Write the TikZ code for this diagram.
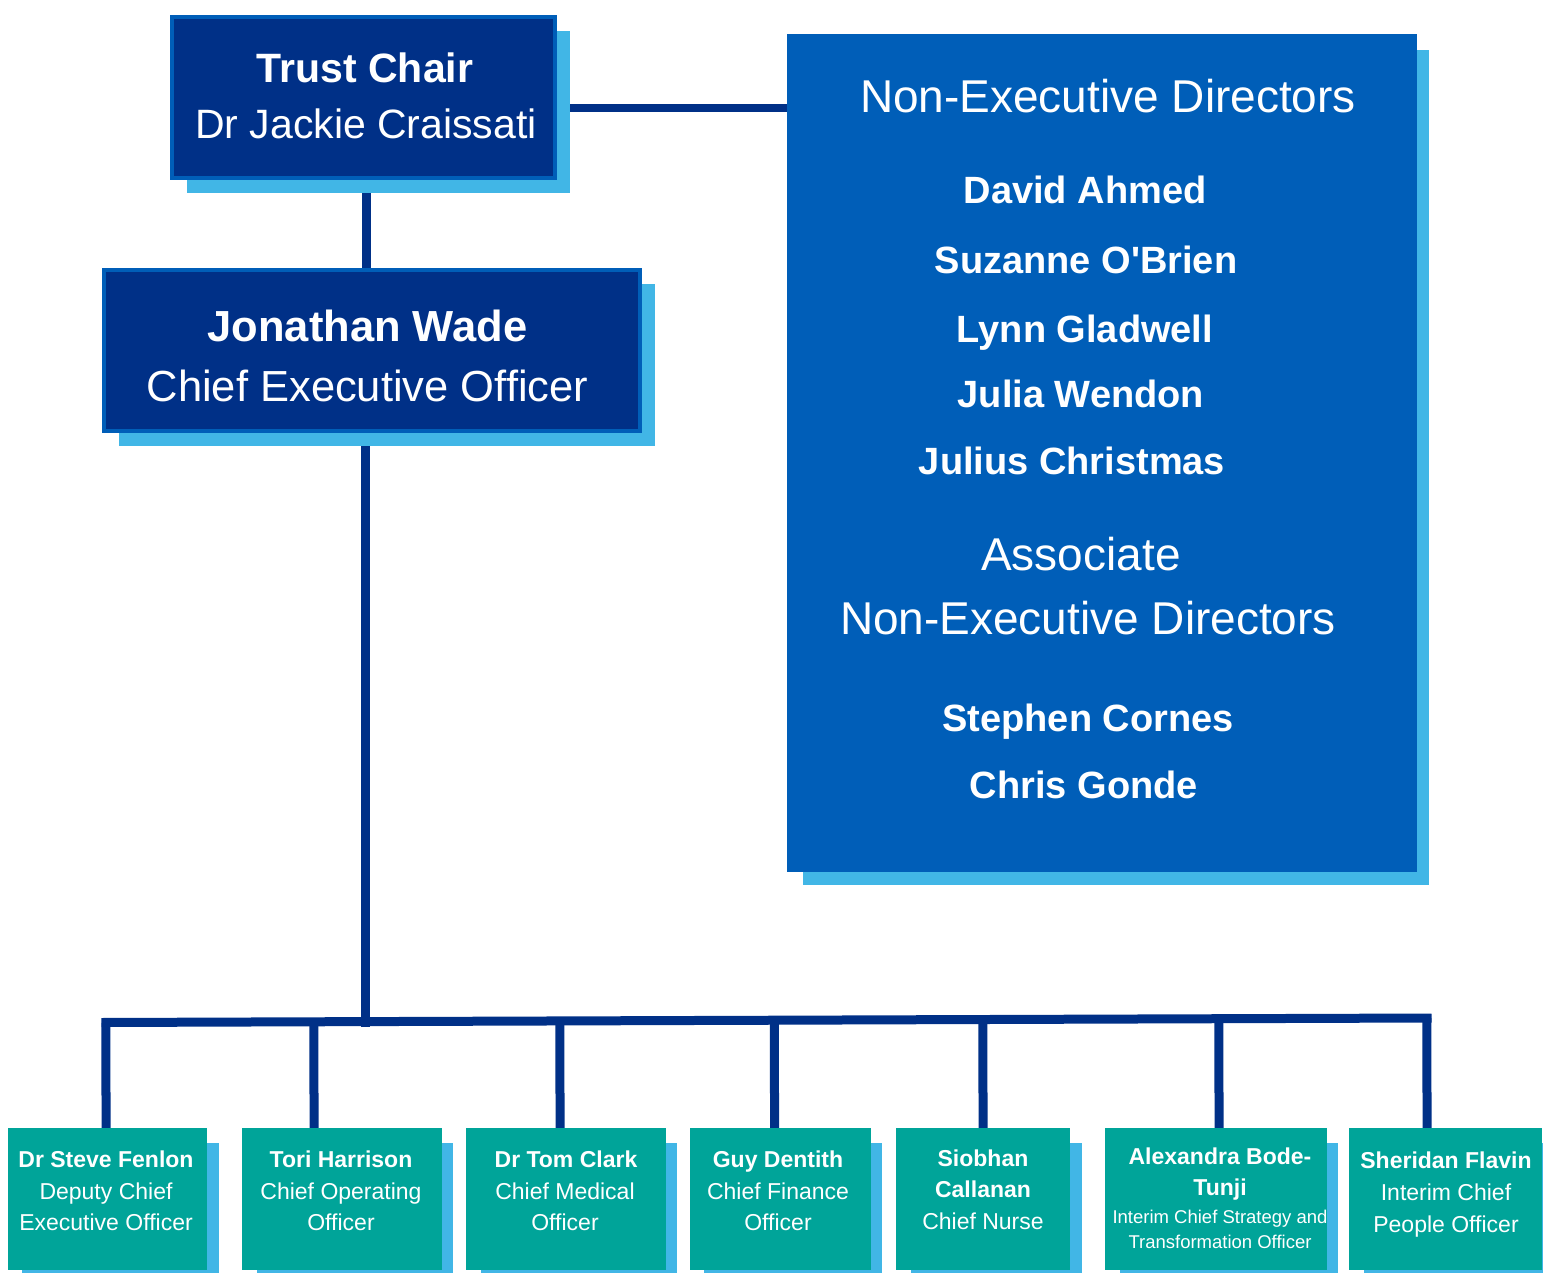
\documentclass[tikz,border=0pt]{standalone}
\usepackage{fontspec}
\setmainfont{Liberation Sans}
\newfontfamily\plainfam{Liberation Sans}[Ligatures=TeXOff]
\usetikzlibrary{calc}
\definecolor{navy}{HTML}{003087}
\definecolor{nhsblue}{HTML}{005EB8}
\definecolor{lblue}{HTML}{41B6E6}
\definecolor{aqua}{HTML}{00A499}
\pgfdeclarelayer{lines}
\pgfdeclarelayer{shadows}
\pgfsetlayers{lines,shadows,main}
\begin{document}
\begin{tikzpicture}[x=1pt,y=-1pt,
  box/.style={rectangle, inner sep=0pt, outer sep=0pt},
  topbox/.style={box, draw=nhsblue, line width=4pt, fill=navy},
  exbox/.style={box, fill=aqua, minimum height=142pt},
  conn/.style={draw=navy, line width=9pt},
  shade/.style={fill=lblue},
  txt/.style={text=white, inner sep=0pt, anchor=base},
  fs/.style={txt, font=\fontsize{#1}{#1}\selectfont},
  bfs/.style={txt, font=\bfseries\fontsize{#1}{#1}\selectfont}]
\useasboundingbox (0,0) rectangle (1543,1273);

% boxes
\node[topbox, minimum width=383pt, minimum height=161pt] (chair) at (363.5,97.5) {};
\node[topbox, minimum width=536pt, minimum height=161pt] (ceo) at (371.5,350.5) {};
\node[box, fill=nhsblue, minimum width=630pt, minimum height=838pt] (ned) at (1102,453) {};
\node[exbox, minimum width=199pt] (b1) at (107.5,1199) {};
\node[exbox, minimum width=200pt] (b2) at (342,1199) {};
\node[exbox, minimum width=200pt] (b3) at (566,1199) {};
\node[exbox, minimum width=181pt] (b4) at (780.5,1199) {};
\node[exbox, minimum width=174pt] (b5) at (983,1199) {};
\node[exbox, minimum width=222pt] (b6) at (1216,1199) {};
\node[exbox, minimum width=193pt] (b7) at (1445.5,1199) {};

% shadows
\begin{pgfonlayer}{shadows}
\fill[shade] (187,31) rectangle (570,193);
\fill[shade] (119,284) rectangle (655,446);
\fill[shade] (803,50) rectangle (1429,885);
\fill[shade] (22,1143) rectangle (219,1280);
\fill[shade] (257,1143) rectangle (453,1280);
\fill[shade] (481,1143) rectangle (677,1280);
\fill[shade] (704,1143) rectangle (882,1280);
\fill[shade] (911,1143) rectangle (1082,1280);
\fill[shade] (1120,1143) rectangle (1338,1280);
\fill[shade] (1364,1143) rectangle (1550,1280);
\end{pgfonlayer}

% connectors
\coordinate (busL) at (101.5,1022.5);
\coordinate (busR) at (1431.5,1018);
\coordinate (d1) at ([xshift=-1.5pt]b1.north);
\coordinate (d2) at ([xshift=-28pt]b2.north);
\coordinate (d3) at ([xshift=-6pt]b3.north);
\coordinate (d4) at ([xshift=-6pt]b4.north);
\coordinate (d5) at (b5.north);
\coordinate (d6) at ([xshift=3pt]b6.north);
\coordinate (d7) at ([xshift=-18.5pt]b7.north);
\coordinate (tr) at ([xshift=-6pt]ceo.south);
\begin{pgfonlayer}{lines}
\draw[conn, line width=8pt] ([yshift=-10.5pt]chair.east) -- ([yshift=-10.5pt]chair.east -| ned.west);
\draw[conn] ([xshift=2.5pt]chair.south) -- ([xshift=2.5pt]chair.south |- ceo.north);
\coordinate (trb) at (tr |- 0,1027);
\draw[conn] (tr) -- (trb);
\draw[conn] (busL) -- (busR);
\foreach \d in {d1,d2,d3,d4,d5,d6,d7}{
  \coordinate (up) at ([yshift=200pt]\d);
  \draw[conn] (intersection of busL--busR and \d--up) -- (\d);
}
\end{pgfonlayer}

% texts: top
\node[bfs=41] (t1) at (365,83) {Trust Chair};
\node[fs=41] (t2) at (366,139) {Dr Jackie Craissati};
\node[bfs=43.5] (t3) at (367.5,342) {Jonathan Wade};
\node[fs=43.5] (t4) at (367.5,402) {Chief Executive Officer};

% NED
\node[fs=46] (n0) at (1108,113) {Non-Executive Directors};
\node[bfs=38] (n1) at (1085,204) {David Ahmed};
\node[txt, font=\plainfam\bfseries\fontsize{38}{38}\selectfont] (n2) at (1086,274) {Suzanne O'Brien};
\node[bfs=38] (n3) at (1085,343) {Lynn Gladwell};
\node[bfs=38] (n4) at (1081,407) {Julia Wendon};
\node[bfs=38] (n5) at (1072,474) {Julius Christmas};
\node[fs=46] (n6) at (1081,570) {Associate};
\node[fs=46] (n7) at (1088,634) {Non-Executive Directors};
\node[bfs=38] (n8) at (1088,731) {Stephen Cornes};
\node[bfs=38] (n9) at (1084,798) {Chris Gonde};

% executives
\node[bfs=23] (e1a) at (106,1167) {Dr Steve Fenlon};
\node[fs=23] (e1b) at (106,1199) {Deputy Chief};
\node[fs=23] (e1c) at (106,1230) {Executive Officer};

\node[bfs=23] (e2a) at (341,1167) {Tori Harrison};
\node[fs=23] (e2b) at (341,1199) {Chief Operating};
\node[fs=23] (e2c) at (341,1230) {Officer};

\node[bfs=23] (e3a) at (566,1167) {Dr Tom Clark};
\node[fs=23] (e3b) at (565,1199) {Chief Medical};
\node[fs=23] (e3c) at (565,1230) {Officer};

\node[bfs=23] (e4a) at (778,1167) {Guy Dentith};
\node[fs=23] (e4b) at (778,1199) {Chief Finance};
\node[fs=23] (e4c) at (778,1230) {Officer};

\node[bfs=23] (e5a) at (983,1166) {Siobhan};
\node[bfs=23] (e5b) at (983,1197) {Callanan};
\node[fs=23] (e5c) at (983,1229) {Chief Nurse};

\node[bfs=23] (e6a) at (1220,1164) {Alexandra Bode-};
\node[bfs=23] (e6b) at (1220,1195) {Tunji};
\node[fs=18.5] (e6c) at (1220,1223) {Interim Chief Strategy and};
\node[fs=18.5] (e6d) at (1220,1248) {Transformation Officer};

\node[bfs=23] (e7a) at (1446,1168) {Sheridan Flavin};
\node[fs=23] (e7b) at (1446,1200) {Interim Chief};
\node[fs=23] (e7c) at (1446,1232) {People Officer};
\end{tikzpicture}
\end{document}
